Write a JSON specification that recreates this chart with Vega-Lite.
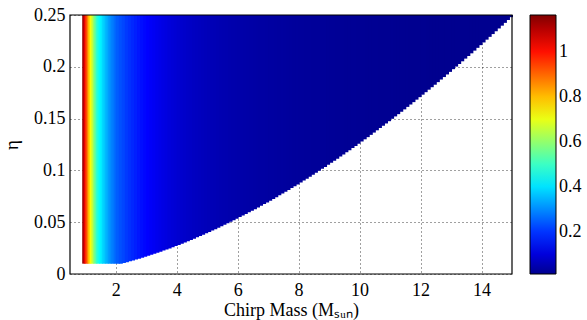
{
  "$schema": "https://vega.github.io/schema/vega-lite/v6.json",
  "width": 442,
  "height": 259,
  "autosize": {"type": "none"},
  "padding": {"left": 70, "top": 15, "right": 75, "bottom": 46},
  "background": "white",
  "config": {
    "font": "Liberation Serif",
    "view": {"stroke": null},
    "axis": {
      "grid": true,
      "gridDash": [1, 3],
      "gridColor": "#000",
      "gridOpacity": 0.75,
      "gridWidth": 1,
      "ticks": false,
      "domain": false,
      "labelFontSize": 18,
      "labelColor": "#000",
      "labelFlush": false,
      "titleFontSize": 18,
      "titleFontWeight": "normal",
      "titleColor": "#000",
      "zindex": 1
    }
  },
  "layer": [
    {
      "data": {
        "values": [
          {"mc": 0.90, "mc2": 0.95, "eta": 0.01, "v": 1.13},
          {"mc": 0.95, "mc2": 1.00, "eta": 0.01, "v": 1.04},
          {"mc": 1.00, "mc2": 1.05, "eta": 0.01, "v": 0.95},
          {"mc": 1.05, "mc2": 1.10, "eta": 0.01, "v": 0.87},
          {"mc": 1.10, "mc2": 1.15, "eta": 0.01, "v": 0.78},
          {"mc": 1.15, "mc2": 1.20, "eta": 0.01, "v": 0.72},
          {"mc": 1.20, "mc2": 1.25, "eta": 0.01, "v": 0.66},
          {"mc": 1.25, "mc2": 1.30, "eta": 0.01, "v": 0.60},
          {"mc": 1.30, "mc2": 1.35, "eta": 0.01, "v": 0.54},
          {"mc": 1.35, "mc2": 1.40, "eta": 0.01, "v": 0.49},
          {"mc": 1.40, "mc2": 1.45, "eta": 0.01, "v": 0.45},
          {"mc": 1.45, "mc2": 1.50, "eta": 0.01, "v": 0.43},
          {"mc": 1.50, "mc2": 1.55, "eta": 0.01, "v": 0.41},
          {"mc": 1.55, "mc2": 1.60, "eta": 0.01, "v": 0.39},
          {"mc": 1.60, "mc2": 1.65, "eta": 0.01, "v": 0.37},
          {"mc": 1.65, "mc2": 1.70, "eta": 0.01, "v": 0.352},
          {"mc": 1.70, "mc2": 1.75, "eta": 0.01, "v": 0.335},
          {"mc": 1.75, "mc2": 1.80, "eta": 0.01, "v": 0.318},
          {"mc": 1.80, "mc2": 1.85, "eta": 0.01, "v": 0.300},
          {"mc": 1.85, "mc2": 1.90, "eta": 0.01, "v": 0.288},
          {"mc": 1.90, "mc2": 1.95, "eta": 0.01, "v": 0.276},
          {"mc": 1.95, "mc2": 2.00, "eta": 0.01, "v": 0.262},
          {"mc": 2.0, "mc2": 2.1, "eta": 0.01, "v": 0.245},
          {"mc": 2.1, "mc2": 2.2, "eta": 0.01, "v": 0.232},
          {"mc": 2.2, "mc2": 2.3, "eta": 0.0106, "v": 0.220},
          {"mc": 2.3, "mc2": 2.4, "eta": 0.0114, "v": 0.205},
          {"mc": 2.4, "mc2": 2.5, "eta": 0.0122, "v": 0.195},
          {"mc": 2.5, "mc2": 2.6, "eta": 0.0130, "v": 0.185},
          {"mc": 2.6, "mc2": 2.7, "eta": 0.0139, "v": 0.175},
          {"mc": 2.7, "mc2": 2.8, "eta": 0.0148, "v": 0.165},
          {"mc": 2.8, "mc2": 2.9, "eta": 0.0157, "v": 0.155},
          {"mc": 2.9, "mc2": 3.0, "eta": 0.0166, "v": 0.147},
          {"mc": 3.0, "mc2": 3.1, "eta": 0.0175, "v": 0.140},
          {"mc": 3.1, "mc2": 3.2, "eta": 0.0185, "v": 0.133},
          {"mc": 3.2, "mc2": 3.3, "eta": 0.0195, "v": 0.127},
          {"mc": 3.3, "mc2": 3.4, "eta": 0.0205, "v": 0.121},
          {"mc": 3.4, "mc2": 3.5, "eta": 0.0215, "v": 0.115},
          {"mc": 3.5, "mc2": 3.6, "eta": 0.0226, "v": 0.109},
          {"mc": 3.6, "mc2": 3.7, "eta": 0.0237, "v": 0.104},
          {"mc": 3.7, "mc2": 3.8, "eta": 0.0247, "v": 0.099},
          {"mc": 3.8, "mc2": 3.9, "eta": 0.0259, "v": 0.0945},
          {"mc": 3.9, "mc2": 4.0, "eta": 0.0270, "v": 0.0904},
          {"mc": 4.0, "mc2": 4.1, "eta": 0.0281, "v": 0.0865},
          {"mc": 4.1, "mc2": 4.2, "eta": 0.0293, "v": 0.0829},
          {"mc": 4.2, "mc2": 4.3, "eta": 0.0305, "v": 0.0795},
          {"mc": 4.3, "mc2": 4.4, "eta": 0.0317, "v": 0.0763},
          {"mc": 4.4, "mc2": 4.5, "eta": 0.0329, "v": 0.0733},
          {"mc": 4.5, "mc2": 4.6, "eta": 0.0341, "v": 0.0705},
          {"mc": 4.6, "mc2": 4.7, "eta": 0.0354, "v": 0.0679},
          {"mc": 4.7, "mc2": 4.8, "eta": 0.0367, "v": 0.0654},
          {"mc": 4.8, "mc2": 4.9, "eta": 0.0380, "v": 0.0631},
          {"mc": 4.9, "mc2": 5.0, "eta": 0.0393, "v": 0.0609},
          {"mc": 5.0, "mc2": 5.1, "eta": 0.0406, "v": 0.0588},
          {"mc": 5.1, "mc2": 5.2, "eta": 0.0420, "v": 0.0568},
          {"mc": 5.2, "mc2": 5.3, "eta": 0.0433, "v": 0.0549},
          {"mc": 5.3, "mc2": 5.4, "eta": 0.0447, "v": 0.0531},
          {"mc": 5.4, "mc2": 5.5, "eta": 0.0461, "v": 0.0514},
          {"mc": 5.5, "mc2": 5.6, "eta": 0.0475, "v": 0.0498},
          {"mc": 5.6, "mc2": 5.7, "eta": 0.0490, "v": 0.0483},
          {"mc": 5.7, "mc2": 5.8, "eta": 0.0504, "v": 0.0468},
          {"mc": 5.8, "mc2": 5.9, "eta": 0.0519, "v": 0.0454},
          {"mc": 5.9, "mc2": 6.0, "eta": 0.0534, "v": 0.0441},
          {"mc": 6.0, "mc2": 6.1, "eta": 0.0549, "v": 0.0429},
          {"mc": 6.1, "mc2": 6.2, "eta": 0.0564, "v": 0.0416},
          {"mc": 6.2, "mc2": 6.3, "eta": 0.0579, "v": 0.0405},
          {"mc": 6.3, "mc2": 6.4, "eta": 0.0595, "v": 0.0394},
          {"mc": 6.4, "mc2": 6.5, "eta": 0.0611, "v": 0.0383},
          {"mc": 6.5, "mc2": 6.6, "eta": 0.0626, "v": 0.0373},
          {"mc": 6.6, "mc2": 6.7, "eta": 0.0642, "v": 0.0363},
          {"mc": 6.7, "mc2": 6.8, "eta": 0.0659, "v": 0.0354},
          {"mc": 6.8, "mc2": 6.9, "eta": 0.0675, "v": 0.0345},
          {"mc": 6.9, "mc2": 7.0, "eta": 0.0691, "v": 0.0336},
          {"mc": 7.0, "mc2": 7.1, "eta": 0.0708, "v": 0.0328},
          {"mc": 7.1, "mc2": 7.2, "eta": 0.0725, "v": 0.0320},
          {"mc": 7.2, "mc2": 7.3, "eta": 0.0742, "v": 0.0312},
          {"mc": 7.3, "mc2": 7.4, "eta": 0.0759, "v": 0.0305},
          {"mc": 7.4, "mc2": 7.5, "eta": 0.0776, "v": 0.0298},
          {"mc": 7.5, "mc2": 7.6, "eta": 0.0794, "v": 0.0291},
          {"mc": 7.6, "mc2": 7.7, "eta": 0.0811, "v": 0.0284},
          {"mc": 7.7, "mc2": 7.8, "eta": 0.0829, "v": 0.0278},
          {"mc": 7.8, "mc2": 7.9, "eta": 0.0847, "v": 0.0272},
          {"mc": 7.9, "mc2": 8.0, "eta": 0.0865, "v": 0.0266},
          {"mc": 8.0, "mc2": 8.1, "eta": 0.0883, "v": 0.0260},
          {"mc": 8.1, "mc2": 8.2, "eta": 0.0902, "v": 0.0254},
          {"mc": 8.2, "mc2": 8.3, "eta": 0.0920, "v": 0.0249},
          {"mc": 8.3, "mc2": 8.4, "eta": 0.0939, "v": 0.0244},
          {"mc": 8.4, "mc2": 8.5, "eta": 0.0958, "v": 0.0239},
          {"mc": 8.5, "mc2": 8.6, "eta": 0.0977, "v": 0.0234},
          {"mc": 8.6, "mc2": 8.7, "eta": 0.0996, "v": 0.0229},
          {"mc": 8.7, "mc2": 8.8, "eta": 0.1015, "v": 0.0225},
          {"mc": 8.8, "mc2": 8.9, "eta": 0.1034, "v": 0.0220},
          {"mc": 8.9, "mc2": 9.0, "eta": 0.1054, "v": 0.0216},
          {"mc": 9.0, "mc2": 9.1, "eta": 0.1074, "v": 0.0212},
          {"mc": 9.1, "mc2": 9.2, "eta": 0.1093, "v": 0.0208},
          {"mc": 9.2, "mc2": 9.3, "eta": 0.1113, "v": 0.0204},
          {"mc": 9.3, "mc2": 9.4, "eta": 0.1134, "v": 0.0200},
          {"mc": 9.4, "mc2": 9.5, "eta": 0.1154, "v": 0.0196},
          {"mc": 9.5, "mc2": 9.6, "eta": 0.1174, "v": 0.0193},
          {"mc": 9.6, "mc2": 9.7, "eta": 0.1195, "v": 0.0189},
          {"mc": 9.7, "mc2": 9.8, "eta": 0.1216, "v": 0.0186},
          {"mc": 9.8, "mc2": 9.9, "eta": 0.1236, "v": 0.0183},
          {"mc": 9.9, "mc2": 10.0, "eta": 0.1257, "v": 0.0179},
          {"mc": 10.0, "mc2": 10.1, "eta": 0.1279, "v": 0.0176},
          {"mc": 10.1, "mc2": 10.2, "eta": 0.1300, "v": 0.0173},
          {"mc": 10.2, "mc2": 10.3, "eta": 0.1321, "v": 0.0170},
          {"mc": 10.3, "mc2": 10.4, "eta": 0.1343, "v": 0.0168},
          {"mc": 10.4, "mc2": 10.5, "eta": 0.1365, "v": 0.0165},
          {"mc": 10.5, "mc2": 10.6, "eta": 0.1387, "v": 0.0162},
          {"mc": 10.6, "mc2": 10.7, "eta": 0.1409, "v": 0.0159},
          {"mc": 10.7, "mc2": 10.8, "eta": 0.1431, "v": 0.0157},
          {"mc": 10.8, "mc2": 10.9, "eta": 0.1453, "v": 0.0154},
          {"mc": 10.9, "mc2": 11.0, "eta": 0.1475, "v": 0.0152},
          {"mc": 11.0, "mc2": 11.1, "eta": 0.1498, "v": 0.0149},
          {"mc": 11.1, "mc2": 11.2, "eta": 0.1521, "v": 0.0147},
          {"mc": 11.2, "mc2": 11.3, "eta": 0.1543, "v": 0.0145},
          {"mc": 11.3, "mc2": 11.4, "eta": 0.1566, "v": 0.0142},
          {"mc": 11.4, "mc2": 11.5, "eta": 0.1589, "v": 0.0140},
          {"mc": 11.5, "mc2": 11.6, "eta": 0.1613, "v": 0.0138},
          {"mc": 11.6, "mc2": 11.7, "eta": 0.1636, "v": 0.0136},
          {"mc": 11.7, "mc2": 11.8, "eta": 0.1659, "v": 0.0134},
          {"mc": 11.8, "mc2": 11.9, "eta": 0.1683, "v": 0.0132},
          {"mc": 11.9, "mc2": 12.0, "eta": 0.1707, "v": 0.0130},
          {"mc": 12.0, "mc2": 12.1, "eta": 0.1731, "v": 0.0128},
          {"mc": 12.1, "mc2": 12.2, "eta": 0.1755, "v": 0.0126},
          {"mc": 12.2, "mc2": 12.3, "eta": 0.1779, "v": 0.0125},
          {"mc": 12.3, "mc2": 12.4, "eta": 0.1803, "v": 0.0123},
          {"mc": 12.4, "mc2": 12.5, "eta": 0.1827, "v": 0.0121},
          {"mc": 12.5, "mc2": 12.6, "eta": 0.1852, "v": 0.0120},
          {"mc": 12.6, "mc2": 12.7, "eta": 0.1877, "v": 0.0118},
          {"mc": 12.7, "mc2": 12.8, "eta": 0.1901, "v": 0.0116},
          {"mc": 12.8, "mc2": 12.9, "eta": 0.1926, "v": 0.0115},
          {"mc": 12.9, "mc2": 13.0, "eta": 0.1951, "v": 0.0113},
          {"mc": 13.0, "mc2": 13.1, "eta": 0.1977, "v": 0.0112},
          {"mc": 13.1, "mc2": 13.2, "eta": 0.2002, "v": 0.0110},
          {"mc": 13.2, "mc2": 13.3, "eta": 0.2027, "v": 0.0109},
          {"mc": 13.3, "mc2": 13.4, "eta": 0.2053, "v": 0.0107},
          {"mc": 13.4, "mc2": 13.5, "eta": 0.2079, "v": 0.0106},
          {"mc": 13.5, "mc2": 13.6, "eta": 0.2104, "v": 0.0105},
          {"mc": 13.6, "mc2": 13.7, "eta": 0.2130, "v": 0.0103},
          {"mc": 13.7, "mc2": 13.8, "eta": 0.2156, "v": 0.0102},
          {"mc": 13.8, "mc2": 13.9, "eta": 0.2183, "v": 0.0101},
          {"mc": 13.9, "mc2": 14.0, "eta": 0.2209, "v": 0.0099},
          {"mc": 14.0, "mc2": 14.1, "eta": 0.2235, "v": 0.0098},
          {"mc": 14.1, "mc2": 14.2, "eta": 0.2262, "v": 0.0097},
          {"mc": 14.2, "mc2": 14.3, "eta": 0.2289, "v": 0.0096},
          {"mc": 14.3, "mc2": 14.4, "eta": 0.2316, "v": 0.0095},
          {"mc": 14.4, "mc2": 14.5, "eta": 0.2343, "v": 0.0093},
          {"mc": 14.5, "mc2": 14.6, "eta": 0.2370, "v": 0.0092},
          {"mc": 14.6, "mc2": 14.7, "eta": 0.2397, "v": 0.0091},
          {"mc": 14.7, "mc2": 14.8, "eta": 0.2424, "v": 0.0090},
          {"mc": 14.8, "mc2": 14.9, "eta": 0.2452, "v": 0.0089},
          {"mc": 14.9, "mc2": 15.0, "eta": 0.2479, "v": 0.0088}
        ]
      },
      "mark": {"type": "rect", "x2Offset": 1},
      "encoding": {
        "x": {
          "field": "mc",
          "type": "quantitative",
          "scale": {"domain": [0.5, 15], "nice": false, "zero": false},
          "axis": {
            "values": [2, 4, 6, 8, 10, 12, 14],
            "labelPadding": 7,
            "title": "Chirp Mass (Mₛᵤₙ)",
            "titlePadding": 2
          }
        },
        "x2": {"field": "mc2"},
        "y": {
          "field": "eta",
          "type": "quantitative",
          "scale": {"domain": [0, 0.25], "nice": false, "zero": false},
          "axis": {
            "values": [0, 0.05, 0.1, 0.15, 0.2, 0.25],
            "format": "~g",
            "labelPadding": 5,
            "title": "η",
            "titleFontSize": 19,
            "titlePadding": 12
          }
        },
        "y2": {"datum": 0.25},
        "color": {
          "field": "v",
          "type": "quantitative",
          "scale": {
            "domain": [0.012, 0.140, 0.432, 0.724, 1.017, 1.163],
            "range": ["#00008f", "#0000ff", "#00ffff", "#ffff00", "#ff0000", "#800000"],
            "clamp": true,
            "interpolate": "rgb"
          },
          "legend": {
            "type": "gradient",
            "title": null,
            "orient": "right",
            "offset": 18,
            "padding": 0,
            "direction": "vertical",
            "gradientLength": 259,
            "gradientThickness": 26,
            "gradientStrokeColor": "#000",
            "gradientStrokeWidth": 1,
            "values": [0.2, 0.4, 0.6, 0.8, 1],
            "format": "~g",
            "labelFontSize": 18,
            "labelColor": "#000",
            "labelOffset": 3,
            "labelOverlap": false
          }
        }
      }
    },
    {
      "data": {"values": [{}]},
      "mark": {"type": "rect", "filled": false, "fill": null, "stroke": "#000", "strokeWidth": 1.2},
      "encoding": {
        "x": {"datum": 0.5},
        "x2": {"datum": 15},
        "y": {"datum": 0},
        "y2": {"datum": 0.25}
      }
    }
  ]
}
